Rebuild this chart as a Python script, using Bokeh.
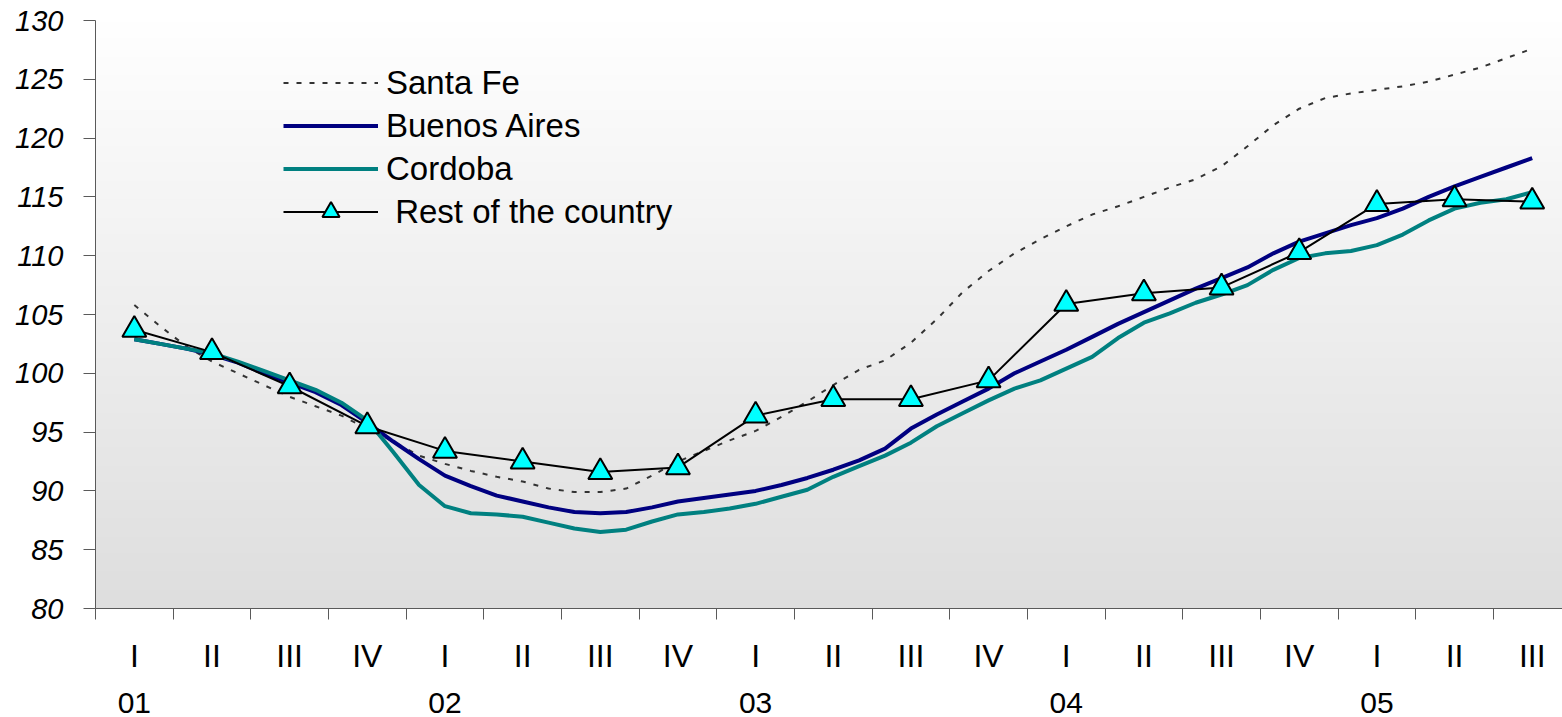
import numpy as np
from bokeh.plotting import figure
from bokeh.models import FixedTicker, LinearAxis, Legend, LegendItem, Range1d
from bokeh.embed import file_html
from bokeh.resources import INLINE

# ---- data ----
quarters = ["I", "II", "III", "IV"] * 4 + ["I", "II", "III"]
years = ["01", "02", "03", "04", "05"]

santa_fe = [105.8, 104.0, 102.3, 101.0, 100.0, 99.0, 98.0, 97.2, 96.4, 95.3,
            94.2, 93.0, 92.3, 91.7, 91.2, 90.8, 90.2, 89.9, 89.9, 90.2,
            91.3, 92.5, 93.4, 94.3, 95.1, 96.3, 97.6, 99.0, 100.3, 101.1,
            102.6, 104.6, 106.9, 108.7, 110.2, 111.4, 112.5, 113.5, 114.2, 115.0,
            115.8, 116.5, 117.6, 119.3, 121.1, 122.5, 123.4, 123.8, 124.1, 124.4,
            124.8, 125.4, 126.0, 126.8, 127.6]
buenos_aires = [102.9, 102.5, 102.1, 101.6, 100.9, 100.0, 99.2, 98.4, 97.3, 95.8,
                94.2, 92.7, 91.3, 90.4, 89.6, 89.1, 88.6, 88.2, 88.1, 88.2,
                88.6, 89.1, 89.4, 89.7, 90.0, 90.5, 91.1, 91.8, 92.6, 93.6,
                95.3, 96.5, 97.6, 98.7, 100.0, 101.0, 102.0, 103.1, 104.2, 105.2,
                106.2, 107.2, 108.1, 109.0, 110.2, 111.2, 111.9, 112.6, 113.2, 114.0,
                115.0, 115.9, 116.7, 117.5, 118.3]
cordoba = [102.9, 102.5, 102.1, 101.7, 101.0, 100.2, 99.4, 98.6, 97.5, 96.0,
           93.3, 90.5, 88.7, 88.1, 88.0, 87.8, 87.3, 86.8, 86.5, 86.7,
           87.4, 88.0, 88.2, 88.5, 88.9, 89.5, 90.1, 91.2, 92.1, 93.0,
           94.1, 95.5, 96.6, 97.7, 98.7, 99.4, 100.4, 101.4, 103.0, 104.3,
           105.1, 106.0, 106.7, 107.5, 108.8, 109.8, 110.2, 110.4, 110.9, 111.8,
           113.0, 114.0, 114.5, 114.8, 115.4]
rest = [103.7, 101.8, 98.9, 95.5, 93.4, 92.5, 91.6, 92.0, 96.4, 97.8,
        97.8, 99.4, 105.9, 106.8, 107.3, 110.3, 114.4, 114.8, 114.6]

y_ticks = [80, 85, 90, 95, 100, 105, 110, 115, 120, 125, 130]

xq = list(range(len(quarters)))
xm = [i / 3 for i in range(len(santa_fe))]
year_pos = [4 * i for i in range(len(years))]

FONT = "Liberation Sans"
AXIS_COLOR = "#5a5a5a"

p = figure(width=1562, height=717, output_backend="svg", toolbar_location=None,
           x_range=Range1d(-0.5, 18.39), y_range=Range1d(80, 130),
           min_border_left=95, min_border_top=20, min_border_right=0,
           min_border_bottom=109)
p.background_fill_color = "white"
p.border_fill_color = "white"
p.outline_line_color = None
p.xgrid.visible = False
p.ygrid.visible = False

# gradient background of plot area
n = 256
g = np.linspace(0xde, 0xff, n).astype(np.uint8)
img = np.empty((n, 1), dtype=np.uint32)
view = img.view(dtype=np.uint8).reshape((n, 1, 4))
view[:, 0, 0] = g
view[:, 0, 1] = g
view[:, 0, 2] = g
view[:, 0, 3] = 255
p.image_rgba(image=[img], x=-0.5, y=80, dw=19, dh=50)

r_sf = p.line(xm, santa_fe, line_color="#333333", line_width=2, line_dash="5 8")
r_ba = p.line(xm, buenos_aires, line_color="#000080", line_width=4)
r_co = p.line(xm, cordoba, line_color="#008080", line_width=4)
r_rl = p.line(xq, rest, line_color="black", line_width=2)
r_rs = p.scatter(xq, rest, marker="triangle", size=24, fill_color="#00ffff",
                 line_color="black", line_width=2)

# y axis
ya = p.yaxis[0]
ya.ticker = FixedTicker(ticks=y_ticks)
ya.major_tick_out = 12
ya.major_tick_in = 0
ya.minor_tick_line_color = None
ya.axis_line_color = AXIS_COLOR
ya.major_tick_line_color = AXIS_COLOR
ya.major_label_text_font = FONT
ya.major_label_text_font_style = "italic"
ya.major_label_text_font_size = "29px"
ya.major_label_text_color = "black"
ya.major_label_standoff = 20

# x axis: quarter labels, boundary ticks
xa = p.xaxis[0]
xa.ticker = FixedTicker(ticks=xq, minor_ticks=[i - 0.5 for i in range(len(quarters) + 1)])
xa.major_label_overrides = {i: q for i, q in zip(xq, quarters)}
xa.major_tick_out = 0
xa.major_tick_in = 0
xa.major_tick_line_color = None
xa.minor_tick_out = 11
xa.minor_tick_in = 0
xa.minor_tick_line_color = AXIS_COLOR
xa.axis_line_color = AXIS_COLOR
xa.major_label_text_font = FONT
xa.major_label_text_font_size = "32px"
xa.major_label_text_color = "black"
xa.major_label_standoff = 18

# year axis
yr = LinearAxis(ticker=FixedTicker(ticks=year_pos),
                major_label_overrides={pos: y for pos, y in zip(year_pos, years)},
                axis_line_color=None, major_tick_line_color=None,
                minor_tick_line_color=None, major_tick_out=0, major_tick_in=0,
                major_label_text_font=FONT, major_label_text_font_size="30px",
                major_label_text_color="black", major_label_standoff=16)
p.add_layout(yr, "below")

legend = Legend(items=[
    LegendItem(label="Santa Fe", renderers=[r_sf]),
    LegendItem(label="Buenos Aires", renderers=[r_ba]),
    LegendItem(label="Cordoba", renderers=[r_co]),
    LegendItem(label=" Rest of the country", renderers=[r_rl, r_rs]),
], location=(188, 375))
legend.border_line_color = None
legend.background_fill_alpha = 0
legend.glyph_width = 95
legend.glyph_height = 43
legend.label_height = 43
legend.spacing = 0
legend.padding = 0
legend.margin = 0
legend.label_standoff = 8
legend.label_text_font = FONT
legend.label_text_font_size = "33px"
legend.label_text_color = "black"
p.add_layout(legend)

open("out.html", "w").write(file_html(p, INLINE))
